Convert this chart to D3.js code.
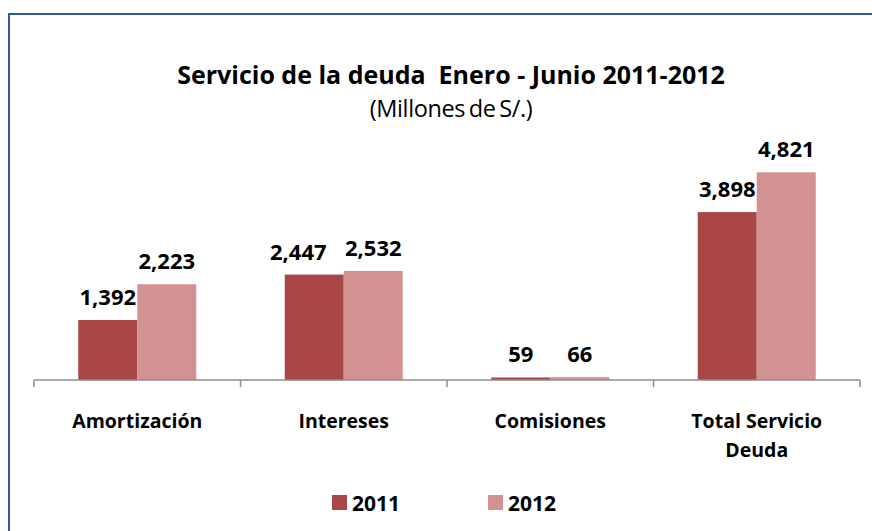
<!DOCTYPE html>
<html lang="es">
<head>
<meta charset="UTF-8">
<script src="https://cdn.jsdelivr.net/npm/d3@7/dist/d3.min.js"></script>
<title>Servicio de la deuda</title>
<style>
    body, html {
        margin: 0;
        padding: 0;
        background: #fff;
    }
    svg text {
        font-family: "Open Sans", Lato, sans-serif;
        fill: #000;
    }
</style>
</head>
<body>
<div id="chart"></div>
<script>

// datos
const categories = [["Amortización"], ["Intereses"], ["Comisiones"], ["Total Servicio", "Deuda"]]
const series = ["2011", "2012"]
const values2011 = [1392, 2447, 59, 3898]
const values2012 = [2223, 2532, 66, 4821]
const colors = ["#a84746", "#d39292"]

// etiqueta movida a mano en el original (Intereses 2011)
const labelNudge = { "1-0": -16 }

const width = 872, height = 531
const svg = d3.select("#chart").append("svg").attr("width", width).attr("height", height)

// marco
svg.append("rect").attr("x", 9).attr("y", 14).attr("width", width + 10).attr("height", height + 10)
    .attr("fill", "none").attr("stroke", "#2f5a97").attr("stroke-width", 2)

// títulos
svg.append("text").attr("x", 451).attr("y", 84).attr("text-anchor", "middle")
    .attr("font-size", 25).attr("font-weight", "bold").attr("xml:space", "preserve")
    .text("Servicio de la deuda  Enero - Junio 2011-2012")
svg.append("text").attr("x", 451).attr("y", 117).attr("text-anchor", "middle")
    .attr("font-size", 23.5).attr("letter-spacing", -0.4).attr("word-spacing", -2).text("(Millones de S/.)")

// escalas
const x0 = d3.scaleBand().domain(d3.range(categories.length)).range([34, 860]).paddingInner(0).paddingOuter(0)
const x1 = d3.scaleBand().domain(series).range([0, x0.bandwidth()]).paddingInner(0).paddingOuter(0.75)
const y = d3.scaleLinear().domain([0, 6000]).range([380, 121.5])

const data = categories.map((c, i) => ({ i, vals: [values2011[i], values2012[i]] }))

const groups = svg.append("g").selectAll("g").data(data).enter().append("g")
    .attr("transform", d => `translate(${x0(d.i)},0)`)

groups.selectAll("rect").data(d => d.vals.map((v, k) => ({ v, s: series[k], k }))).enter().append("rect")
    .attr("x", d => x1(d.s)).attr("width", x1.bandwidth())
    .attr("y", d => y(d.v)).attr("height", d => y(0) - y(d.v))
    .attr("fill", d => colors[d.k])

groups.selectAll("text").data(d => d.vals.map((v, k) => ({ v, s: series[k], k, i: d.i }))).enter().append("text")
    .attr("x", d => x1(d.s) + x1.bandwidth() / 2 + (labelNudge[d.i + "-" + d.k] || 0))
    .attr("y", d => y(d.v) - 15)
    .attr("text-anchor", "middle").attr("font-size", 22).attr("font-weight", "bold")
    .text(d => d3.format(",")(d.v))

// eje x
const axis = svg.append("g")
axis.append("line").attr("x1", 34).attr("x2", 860).attr("y1", y(0)).attr("y2", y(0))
    .attr("stroke", "#8c8c8c").attr("stroke-width", 1.5)
axis.selectAll("line.tick").data(d3.range(categories.length + 1)).enter().append("line")
    .attr("class", "tick")
    .attr("x1", d => 34 + d * x0.bandwidth()).attr("x2", d => 34 + d * x0.bandwidth())
    .attr("y1", y(0)).attr("y2", y(0) + 7).attr("stroke", "#8c8c8c").attr("stroke-width", 1.5)

const labels = axis.selectAll("text").data(data).enter().append("text")
    .attr("x", d => x0(d.i) + x0.bandwidth() / 2).attr("y", 428)
    .attr("text-anchor", "middle").attr("font-size", 19.5).attr("font-weight", "bold")
labels.selectAll("tspan").data(d => categories[d.i].map((t, j) => ({ t, j, i: d.i }))).enter().append("tspan")
    .attr("x", d => x0(d.i) + x0.bandwidth() / 2).attr("dy", d => d.j === 0 ? 0 : 29)
    .text(d => d.t)

// leyenda
const legendX = [332, 488]
const legend = svg.append("g").selectAll("g").data(series).enter().append("g")
    .attr("transform", (d, i) => `translate(${legendX[i]},495)`)
legend.append("rect").attr("width", 15).attr("height", 15).attr("fill", (d, i) => colors[i])
legend.append("text").attr("x", 20).attr("y", 16).attr("font-size", 21).attr("font-weight", "bold").text(d => d)

</script>
</body>
</html>
